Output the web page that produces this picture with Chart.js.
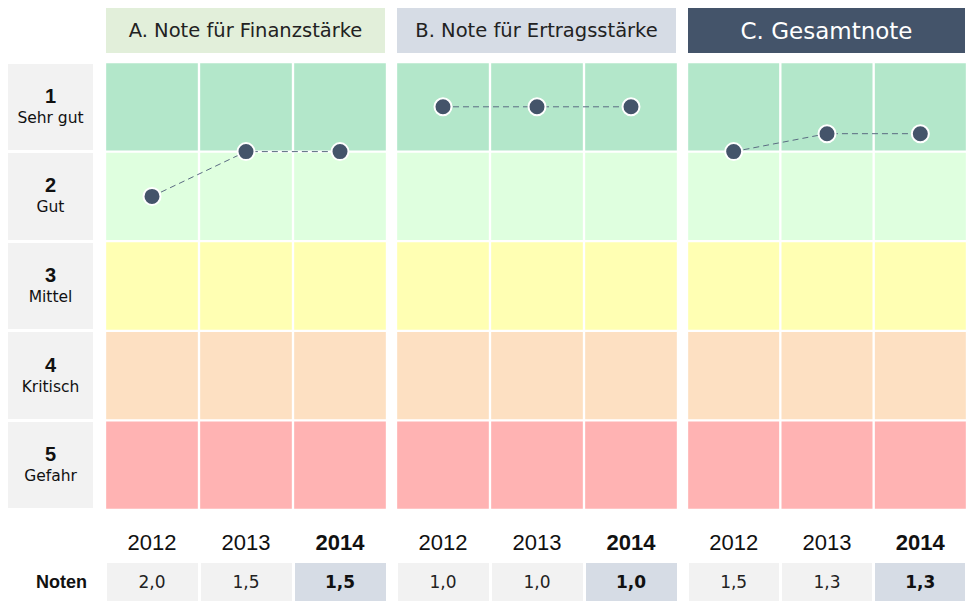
<!DOCTYPE html>
<html>
<head>
<meta charset="utf-8">
<script src="https://cdn.jsdelivr.net/npm/chart.js@4"></script>
<style>
  html, body { margin: 0; padding: 0; background: #fff; }
  body { width: 971px; height: 601px; position: relative; overflow: hidden; font-family: "DejaVu Sans", sans-serif; }
  .abs { position: absolute; display: flex; align-items: center; justify-content: center; box-sizing: border-box; }
  .head { font-size: 19px; color: #222; }
  .rowlab { background: #f2f2f2; flex-direction: column; color: #111; }
  .rowlab b { font-family: "Liberation Sans", sans-serif; font-size: 20px; line-height: 23px; }
  .rowlab span { font-size: 15.5px; line-height: 21px; }
  .year { font-family: "Liberation Sans", sans-serif; font-size: 22px; color: #111; }
  .cell { background: #f2f2f2; font-size: 17px; color: #222; }
  canvas { position: absolute; }
</style>
</head>
<body>
<script>
// data
const years = ['2012', '2013', '2014'];
const titles = ['A. Note für Finanzstärke', 'B. Note für Ertragsstärke', 'C. Gesamtnote'];
const finanz = [2.0, 1.5, 1.5];
const ertrag = [1.0, 1.0, 1.0];
const gesamt = [1.5, 1.3, 1.3];
const grades = [1, 2, 3, 4, 5];
const gradeNames = ['Sehr gut', 'Gut', 'Mittel', 'Kritisch', 'Gefahr'];
const series = [finanz, ertrag, gesamt];

// layout + style
const bandColors = ['#b3e7ca', '#dfffdf', '#ffffb3', '#fde0c2', '#ffb3b3'];
const headColors = ['#e2efda', '#d6dce5', '#44546a'];
const panels = [{ x: 105, w: 282 }, { x: 396, w: 282 }, { x: 687, w: 280 }];
const top0 = 62, plotH = 448;
const dark = '#44546a';

function box(cls, x, y, w, h, html, style) {
  const d = document.createElement('div');
  d.className = 'abs ' + cls;
  d.style.left = x + 'px'; d.style.top = y + 'px';
  d.style.width = w + 'px'; d.style.height = h + 'px';
  d.innerHTML = html;
  if (style) Object.assign(d.style, style);
  document.body.appendChild(d);
  return d;
}

const fmt = v => v.toFixed(1).replace('.', ',');

// row labels
const rowH = plotH / grades.length;
grades.forEach((g, i) => {
  box('rowlab', 8, top0 + i * rowH + 1.5, 85, rowH - 3, '<b>' + g + '</b><span>' + gradeNames[i] + '</span>');
});
box('', 8, 563, 85, 38, 'Noten', { fontFamily: 'Liberation Sans, sans-serif', fontWeight: 'bold', fontSize: '18px', color: '#111', justifyContent: 'flex-end', paddingRight: '6px' });

panels.forEach((p, k) => {
  // header
  box('head', p.x + 1, 8, p.w - 3, 45, titles[k], {
    background: headColors[k],
    color: k === 2 ? '#fff' : '#222',
    fontSize: k === 2 ? '23px' : '19.5px'
  });
  const cw = p.w / 3;
  years.forEach((y, i) => {
    box('year', p.x + i * cw, 525, cw, 36, y, { fontWeight: i === 2 ? 'bold' : 'normal' });
    box('cell', p.x + i * cw + 1.5, 563, cw - 3, 38, fmt(series[k][i]), i === 2 ? { background: '#d6dce5', fontWeight: 'bold', color: '#111' } : null);
  });

  // chart
  const c = document.createElement('canvas');
  c.width = p.w; c.height = plotH;
  c.style.left = p.x + 'px'; c.style.top = top0 + 'px';
  document.body.appendChild(c);

  const datasets = grades.map((g, i) => ({
    type: 'bar',
    data: years.map(() => [g - 0.5, g + 0.5]),
    backgroundColor: bandColors[i],
    borderColor: '#ffffff',
    borderWidth: 1.5,
    borderSkipped: false,
    grouped: false,
    barPercentage: 1,
    categoryPercentage: 1,
    order: 2
  }));
  datasets.push({
    type: 'line',
    data: series[k],
    borderColor: '#5b6b82',
    borderWidth: 1,
    borderDash: [6, 4],
    pointRadius: 8.5,
    pointBorderWidth: 2,
    pointBackgroundColor: dark,
    pointBorderColor: '#ffffff',
    order: 0
  });

  new Chart(c, {
    type: 'bar',
    data: { labels: years, datasets: datasets },
    options: {
      responsive: false,
      animation: false,
      layout: { padding: 0, autoPadding: false },
      plugins: { legend: { display: false }, tooltip: { enabled: false } },
      scales: {
        x: { display: false, offset: true },
        y: { display: false, reverse: true, min: 0.5, max: 5.5 }
      }
    }
  });
});
</script>
</body>
</html>
